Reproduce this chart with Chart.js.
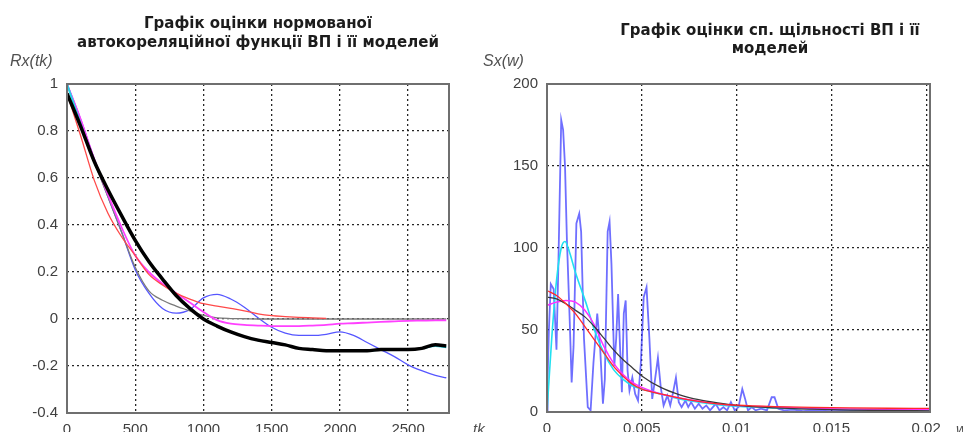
<!DOCTYPE html>
<html>
<head>
<meta charset="utf-8">
<script src="https://cdn.jsdelivr.net/npm/chart.js@4.4.1/dist/chart.umd.min.js"></script>
<style>
  html, body { margin: 0; padding: 0; background: #fff; overflow: hidden; }
  body { width: 963px; height: 432px; position: relative; }
  canvas { position: absolute; top: 0; }
  #rx { left: 0; }
  #sx { left: 480px; }
</style>
</head>
<body>
<canvas id="rx" width="490" height="450"></canvas>
<canvas id="sx" width="483" height="450"></canvas>
<script>
// ---- autocorrelation (left) ----
const lags = [0, 100, 200, 300, 400, 500, 600, 700, 800, 900, 1000, 1100, 1200, 1300,
  1400, 1500, 1600, 1700, 1800, 1900, 2000, 2100, 2200, 2300, 2400, 2500, 2600, 2700, 2780];
const rxBlack = [0.96, 0.82, 0.67, 0.55, 0.44, 0.335, 0.245, 0.17, 0.10, 0.045, 0.0, -0.03,
  -0.055, -0.075, -0.09, -0.10, -0.11, -0.125, -0.13, -0.135, -0.135, -0.135, -0.135, -0.13,
  -0.13, -0.13, -0.125, -0.11, -0.115];
const rxCyan = [1.0, 0.83, 0.67, 0.55, 0.44, 0.335, 0.245, 0.17, 0.10, 0.045, 0.0, -0.03,
  -0.055, -0.075, -0.09, -0.10, -0.11, -0.125, -0.13, -0.135, -0.135, -0.135, -0.135, -0.13,
  -0.13, -0.13, -0.125, -0.115, -0.12];
const rxBlue = [1.0, 0.85, 0.68, 0.52, 0.37, 0.21, 0.11, 0.045, 0.025, 0.04, 0.09, 0.105,
  0.085, 0.05, 0.005, -0.035, -0.06, -0.07, -0.07, -0.065, -0.055, -0.07, -0.10, -0.13,
  -0.16, -0.195, -0.22, -0.24, -0.25];
const rxRed = [0.96, 0.78, 0.59, 0.45, 0.35, 0.27, 0.19, 0.145, 0.11, 0.085, 0.065, 0.055,
  0.045, 0.035, 0.022, 0.014, 0.01, 0.007, 0.005, 0.003];
const rxMagenta = [1.0, 0.85, 0.68, 0.53, 0.39, 0.27, 0.20, 0.15, 0.11, 0.07, 0.03, -0.005,
  -0.02, -0.025, -0.028, -0.03, -0.03, -0.03, -0.028, -0.025, -0.02, -0.018, -0.015, -0.012,
  -0.01, -0.008, -0.007, -0.006, -0.006];
const rxGray = [1.0, 0.84, 0.67, 0.52, 0.37, 0.22, 0.12, 0.08, 0.055, 0.035, 0.015, 0.005,
  0.002, 0.001, 0, 0, 0, 0, 0, 0, 0, 0, 0, 0, 0, 0, 0, 0, 0];
const rxXTicks = [0, 500, 1000, 1500, 2000, 2500];
const rxYTicks = [-0.4, -0.2, 0, 0.2, 0.4, 0.6, 0.8, 1];

// ---- spectral density (right) ----
const wSmooth = [0, 0.0005, 0.001, 0.0015, 0.002, 0.0025, 0.003, 0.0035, 0.004, 0.0045,
  0.005, 0.006, 0.007, 0.008, 0.009, 0.01, 0.012, 0.014, 0.016, 0.018, 0.0202];
const sxRed = [74, 71, 66, 60, 52, 44, 36, 28, 22, 17, 14, 11, 8.5, 6.5, 5, 4.2, 3.3, 2.8,
  2.5, 2.3, 2.2];
const sxBlack = [70, 69, 66, 62, 58, 52, 45, 38, 32, 27, 22, 15, 10.5, 7.5, 5.5, 4, 2.5, 1.7,
  1.2, 0.9, 0.7];
const sxMagenta = [65, 67, 68, 67, 62, 53, 40, 30, 23, 18, 15, 11, 8.5, 6.5, 5, 4, 3, 2.2,
  1.8, 1.5, 1.3];
const wCyan = [0, 0.00025, 0.0005, 0.00075, 0.00095, 0.0012, 0.0015, 0.0018, 0.0021, 0.0025,
  0.003, 0.0035, 0.004, 0.0045, 0.005, 0.006, 0.007, 0.008, 0.009, 0.01, 0.012, 0.014,
  0.016, 0.018, 0.0202];
const sxCyan = [0, 45, 80, 100, 104, 97, 85, 75, 65, 50, 36, 26, 20, 16, 14, 11, 8, 6, 4.5,
  3.5, 2.5, 2, 1.6, 1.3, 1];
const wBlue = [0, 0.00003, 0.0001, 0.0002, 0.00035, 0.0005, 0.0006, 0.00075, 0.00085,
  0.00095, 0.00105, 0.0012, 0.0013, 0.0014, 0.00155, 0.0017, 0.0018, 0.00195, 0.00215,
  0.0023, 0.00245, 0.00265, 0.0028, 0.00295, 0.00305, 0.0032, 0.0033, 0.0034, 0.00355,
  0.00365, 0.00375, 0.00385, 0.00395, 0.00405, 0.00415, 0.00425, 0.00435, 0.0045, 0.00465,
  0.0048, 0.00495, 0.0051, 0.00525, 0.0054, 0.00555, 0.0057, 0.00585, 0.006, 0.00615,
  0.00635, 0.0065, 0.00665, 0.0068, 0.00695, 0.0071, 0.0073, 0.00745, 0.0076, 0.0078,
  0.008, 0.0082, 0.0084, 0.0086, 0.0089, 0.0091, 0.0093, 0.0095, 0.0097, 0.0099, 0.0101,
  0.0103, 0.01045, 0.0106, 0.0108, 0.011, 0.0113, 0.0116, 0.01185, 0.012, 0.0122, 0.0125,
  0.013, 0.0135, 0.014, 0.015, 0.016, 0.017, 0.018, 0.019, 0.0202];
const sxBlue = [0, 20, 50, 78, 75, 38, 90, 178, 172, 150, 105, 55, 18, 40, 115, 121, 110, 45,
  3, 1, 30, 60, 40, 5, 20, 110, 116, 90, 28, 45, 72, 40, 12, 60, 68, 25, 13, 21, 11, 7, 30,
  70, 76, 45, 8, 20, 33, 15, 4, 10, 4, 12, 21, 6, 3, 7, 3, 6, 2, 5, 2, 4, 1, 5, 1, 3, 1, 6,
  1, 3, 14, 8, 1, 3, 1, 2, 1, 9, 9, 2, 1, 1.5, 0.5, 1, 0.5, 0.8, 0.4, 0.6, 0.4, 0.5];
const sxXTicks = [0, 0.005, 0.01, 0.015, 0.02];
const sxYTicks = [0, 50, 100, 150, 200];

const pts = (xs, ys) => ys.map((y, i) => ({ x: xs[i], y }));

// MATLAB-like frame plus titles and axis names
const matlabFrame = {
  id: 'matlabFrame',
  afterDraw(chart, args, opts) {
    const { ctx, chartArea: a } = chart;
    ctx.save();
    ctx.strokeStyle = '#6f6f6f';
    ctx.lineWidth = 2;
    ctx.strokeRect(a.left, a.top, a.right - a.left, a.bottom - a.top);

    ctx.fillStyle = '#1c1c1c';
    ctx.font = 'bold 15px "DejaVu Sans"';
    ctx.textAlign = 'center';
    ctx.textBaseline = 'middle';
    opts.title.forEach((line, i) => {
      ctx.fillText(line, opts.titleX, opts.titleY + i * opts.titleGap);
    });

    ctx.fillStyle = '#505050';
    ctx.font = 'italic 16px "Liberation Sans"';
    ctx.textAlign = 'left';
    ctx.fillText(opts.yName, opts.yNameX, 62);
    ctx.textBaseline = 'top';
    ctx.font = 'italic 15px "Liberation Sans"';
    ctx.fillText(opts.xName, opts.xNameX, 422);
    ctx.restore();
  },
};

const tickFont = { family: 'Liberation Sans', size: 15 };

function axes(xTicks, xMin, xMax, yTicks, xHeight) {
  const grid = { color: '#262626', lineWidth: 1.3, drawTicks: false };
  return {
    x: {
      type: 'linear',
      min: xMin,
      max: xMax,
      grid,
      border: { display: false, dash: [2, 3] },
      afterBuildTicks(scale) { scale.ticks = xTicks.map((value) => ({ value })); },
      afterFit(scale) { scale.height = xHeight; },
      ticks: { font: tickFont, color: '#404040', padding: 8, maxRotation: 0,
        callback: (v) => String(v) },
    },
    y: {
      type: 'linear',
      min: yTicks[0],
      max: yTicks[yTicks.length - 1],
      grid,
      border: { display: false, dash: [2, 3] },
      afterBuildTicks(scale) { scale.ticks = yTicks.map((value) => ({ value })); },
      afterFit(scale) { scale.width = 67; },
      ticks: { font: tickFont, color: '#404040', padding: 9, callback: (v) => String(v) },
    },
  };
}

const line = (data, color, width, smooth = true) => ({
  data,
  borderColor: color,
  borderWidth: width,
  pointRadius: 0,
  fill: false,
  cubicInterpolationMode: smooth ? 'monotone' : 'default',
  tension: 0,
});

// eslint-disable-next-line no-new
new Chart(document.getElementById('rx'), {
  type: 'line',
  data: {
    datasets: [
      line(pts(lags, rxBlack), '#000000', 3.5),
      line(pts(lags, rxCyan), '#22d8e8', 2),
      line(pts(lags, rxRed), '#ff4a4a', 1.3),
      line(pts(lags, rxMagenta), '#ff40ff', 1.8),
      line(pts(lags, rxGray), '#7a7a7a', 1.3),
      line(pts(lags, rxBlue), '#5656ff', 1.3),
    ],
  },
  plugins: [matlabFrame],
  options: {
    responsive: false,
    animation: false,
    devicePixelRatio: 1,
    layout: { padding: { top: 84, right: 41, left: 0, bottom: 0 } },
    plugins: {
      legend: { display: false },
      tooltip: { enabled: false },
      matlabFrame: {
        title: ['Графік оцінки нормованої', 'автокореляційної функції ВП і її моделей'],
        titleX: 258,
        titleY: 24,
        titleGap: 19,
        yName: 'Rx(tk)',
        yNameX: 10,
        xName: 'tk',
        xNameX: 473,
      },
    },
    scales: axes(rxXTicks, 0, 2800, rxYTicks, 37),
  },
});

// eslint-disable-next-line no-new
new Chart(document.getElementById('sx'), {
  type: 'line',
  data: {
    datasets: [
      line(pts(wSmooth, sxRed), '#ff2a2a', 1.3),
      line(pts(wSmooth, sxBlack), '#3a3a3a', 1.3),
      line(pts(wSmooth, sxMagenta), '#ff30ff', 1.5),
      line(pts(wCyan, sxCyan), '#20e0f0', 1.6),
      line(pts(wBlue, sxBlue), 'rgba(50, 50, 255, 0.7)', 1.8, false),
    ],
  },
  plugins: [matlabFrame],
  options: {
    responsive: false,
    animation: false,
    devicePixelRatio: 1,
    layout: { padding: { top: 84, right: 33, left: 0, bottom: 0 } },
    plugins: {
      legend: { display: false },
      tooltip: { enabled: false },
      matlabFrame: {
        title: ['Графік оцінки сп. щільності ВП і її', 'моделей'],
        titleX: 290,
        titleY: 31,
        titleGap: 18,
        yName: 'Sx(w)',
        yNameX: 3,
        xName: 'w',
        xNameX: 476,
      },
    },
    scales: axes(sxXTicks, 0, 0.0202, sxYTicks, 38),
  },
});
</script>
</body>
</html>
